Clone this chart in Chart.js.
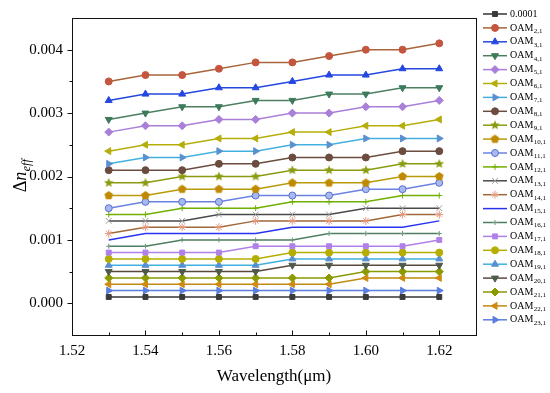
<!DOCTYPE html>
<html><head><meta charset="utf-8">
<script src="https://cdn.jsdelivr.net/npm/chart.js@4.4.1/dist/chart.umd.min.js"></script>
<style>html,body{margin:0;padding:0;background:#fff;}canvas{display:block;}</style>
</head><body>
<canvas id="c" width="550" height="393"></canvas>
<script>
// ---- data ----
const wavelengths = [1.53,1.54,1.55,1.56,1.57,1.58,1.59,1.60,1.61,1.62];
const seriesNames = ['0.0001','OAM2,1','OAM3,1','OAM4,1','OAM5,1','OAM6,1','OAM7,1','OAM8,1','OAM9,1','OAM10,1','OAM11,1','OAM12,1','OAM13,1','OAM14,1','OAM15,1','OAM16,1','OAM17,1','OAM18,1','OAM19,1','OAM20,1','OAM21,1','OAM22,1','OAM23,1'];
const s0001 = [0.0001,0.0001,0.0001,0.0001,0.0001,0.0001,0.0001,0.0001,0.0001,0.0001];
const oam2  = [0.0035,0.0036,0.0036,0.0037,0.0038,0.0038,0.0039,0.0040,0.0040,0.0041];
const oam3  = [0.0032,0.0033,0.0033,0.0034,0.0034,0.0035,0.0036,0.0036,0.0037,0.0037];
const oam4  = [0.0029,0.0030,0.0031,0.0031,0.0032,0.0032,0.0033,0.0033,0.0034,0.0034];
const oam5  = [0.0027,0.0028,0.0028,0.0029,0.0029,0.0030,0.0030,0.0031,0.0031,0.0032];
const oam6  = [0.0024,0.0025,0.0025,0.0026,0.0026,0.0027,0.0027,0.0028,0.0028,0.0029];
const oam7  = [0.0022,0.0023,0.0023,0.0024,0.0024,0.0025,0.0025,0.0026,0.0026,0.0026];
const oam8  = [0.0021,0.0021,0.0021,0.0022,0.0022,0.0023,0.0023,0.0023,0.0024,0.0024];
const oam9  = [0.0019,0.0019,0.0020,0.0020,0.0020,0.0021,0.0021,0.0021,0.0022,0.0022];
const oam10 = [0.0017,0.0017,0.0018,0.0018,0.0018,0.0019,0.0019,0.0019,0.0020,0.0020];
const oam11 = [0.0015,0.0016,0.0016,0.0016,0.0017,0.0017,0.0017,0.0018,0.0018,0.0019];
const oam12 = [0.0014,0.0014,0.0015,0.0015,0.0015,0.0016,0.0016,0.0016,0.0017,0.0017];
const oam13 = [0.0013,0.0013,0.0013,0.0014,0.0014,0.0014,0.0014,0.0015,0.0015,0.0015];
const oam14 = [0.0011,0.0012,0.0012,0.0012,0.0013,0.0013,0.0013,0.0013,0.0014,0.0014];
const oam15 = [0.0010,0.0011,0.0011,0.0011,0.0011,0.0012,0.0012,0.0012,0.0012,0.0013];
const oam16 = [0.0009,0.0009,0.0010,0.0010,0.0010,0.0010,0.0011,0.0011,0.0011,0.0011];
const oam17 = [0.0008,0.0008,0.0008,0.0008,0.0009,0.0009,0.0009,0.0009,0.0009,0.0010];
const oam18 = [0.0007,0.0007,0.0007,0.0007,0.0007,0.0008,0.0008,0.0008,0.0008,0.0008];
const oam19 = [0.0006,0.0006,0.0006,0.0006,0.0006,0.0007,0.0007,0.0007,0.0007,0.0007];
const oam20 = [0.0005,0.0005,0.0005,0.0005,0.0005,0.0006,0.0006,0.0006,0.0006,0.0006];
const oam21 = [0.0004,0.0004,0.0004,0.0004,0.0004,0.0004,0.0004,0.0005,0.0005,0.0005];
const oam22 = [0.0003,0.0003,0.0003,0.0003,0.0003,0.0003,0.0003,0.0004,0.0004,0.0004];
const oam23 = [0.0002,0.0002,0.0002,0.0002,0.0002,0.0002,0.0002,0.0002,0.0002,0.0002];
const seriesValues = [s0001,oam2,oam3,oam4,oam5,oam6,oam7,oam8,oam9,oam10,oam11,oam12,oam13,oam14,oam15,oam16,oam17,oam18,oam19,oam20,oam21,oam22,oam23];

// ---- styles ----
function shapeCanvas(kind, color, r) {
  const s = Math.ceil(r * 2 + 2);
  const c = document.createElement('canvas');
  c.width = s; c.height = s;
  const g = c.getContext('2d');
  g.fillStyle = color;
  g.beginPath();
  const cx = s / 2, cy = s / 2;
  if (kind === 'star') {
    for (let i = 0; i < 10; i++) {
      const a = -Math.PI / 2 + i * Math.PI / 5;
      const rr = i % 2 === 0 ? r : r * 0.45;
      const x = cx + rr * Math.cos(a), y = cy + rr * Math.sin(a);
      i === 0 ? g.moveTo(x, y) : g.lineTo(x, y);
    }
  } else {
    for (let i = 0; i < 5; i++) {
      const a = -Math.PI / 2 + i * 2 * Math.PI / 5;
      const x = cx + r * Math.cos(a), y = cy + r * Math.sin(a);
      i === 0 ? g.moveTo(x, y) : g.lineTo(x, y);
    }
  }
  g.closePath();
  g.fill();
  return c;
}
const styles = [
  {line:'#333333', mark:'#3a3a3a', fill:'#3a3a3a', ps:'rect', rot:0, r:3.5},
  {line:'#a8643a', mark:'#c4553f', fill:'#c4553f', ps:'circle', rot:0, r:3.5},
  {line:'#2447e0', mark:'#2447e0', fill:'#2447e0', ps:'triangle', rot:0, r:4},
  {line:'#4b7f5f', mark:'#3c7a5a', fill:'#3c7a5a', ps:'triangle', rot:180, r:4},
  {line:'#a97fd8', mark:'#a97fd8', fill:'#a97fd8', ps:'rectRot', rot:0, r:4},
  {line:'#b5ae0a', mark:'#b5ae0a', fill:'#b5ae0a', ps:'triangle', rot:-90, r:4},
  {line:'#45b0e0', mark:'#5b90d0', fill:'#5b90d0', ps:'triangle', rot:90, r:4},
  {line:'#6b4c3e', mark:'#6b4c3e', fill:'#6b4c3e', ps:'circle', rot:0, r:3.5},
  {line:'#8a9b10', mark:'#8a9b10', fill:'#8a9b10', ps:shapeCanvas('star','#8a9b10',5), rot:0, r:4},
  {line:'#b89a0a', mark:'#c08a00', fill:'#c08a00', ps:shapeCanvas('pent','#c08a00',4.5), rot:0, r:4},
  {line:'#6a82e0', mark:'#5a70d0', fill:'#a8b8f0', ps:'circle', rot:0, r:3.5},
  {line:'#6fb000', mark:'#6fb000', fill:'#6fb000', ps:'cross', rot:0, r:3},
  {line:'#4a4a4a', mark:'#9a9a9a', fill:'#9a9a9a', ps:'crossRot', rot:0, r:4},
  {line:'#a06838', mark:'#e89a80', fill:'#e89a80', ps:'star', rot:0, r:4},
  {line:'#2633f0', mark:'#2633f0', fill:'#2633f0', ps:'circle', rot:0, r:0},
  {line:'#4e7e60', mark:'#6a9a7a', fill:'#6a9a7a', ps:'cross', rot:0, r:2.5},
  {line:'#b080e8', mark:'#b080e8', fill:'#b080e8', ps:'rect', rot:0, r:3.5},
  {line:'#b5ae00', mark:'#b5ae00', fill:'#b5ae00', ps:'circle', rot:0, r:3.5},
  {line:'#40b0e0', mark:'#5a8fd0', fill:'#5a8fd0', ps:'triangle', rot:0, r:4},
  {line:'#5a4a3e', mark:'#4e5a4a', fill:'#4e5a4a', ps:'triangle', rot:180, r:4},
  {line:'#8a9a00', mark:'#8a9a00', fill:'#8a9a00', ps:'rectRot', rot:0, r:4},
  {line:'#c08a10', mark:'#d08a10', fill:'#d08a10', ps:'triangle', rot:-90, r:4},
  {line:'#5a7ee0', mark:'#5a7ee0', fill:'#5a7ee0', ps:'triangle', rot:90, r:4}
];

const datasets = seriesNames.map((name, i) => ({
  label: name,
  data: wavelengths.map((x, j) => ({x: x, y: seriesValues[i][j]})),
  borderColor: styles[i].line,
  borderWidth: 1.5,
  pointStyle: styles[i].ps,
  pointRotation: styles[i].rot,
  pointRadius: styles[i].r,
  pointBorderColor: styles[i].mark,
  pointBackgroundColor: styles[i].fill,
  pointBorderWidth: 1,
  tension: 0,
  fill: false
}));

const SERIF = "'Liberation Serif','Times New Roman',serif";

const framePlugin = {
  id: 'frame',
  afterDatasetsDraw(chart) {
    const {ctx, chartArea: a, scales} = chart;
    ctx.save();
    ctx.strokeStyle = '#111';
    ctx.lineWidth = 1;
    ctx.strokeRect(Math.round(a.left) + 0.5, Math.round(a.top) + 0.5, Math.round(a.right - a.left), Math.round(a.bottom - a.top));
    // y ticks (outward)
    const ys = scales.y;
    ys.ticks.forEach(t => {
      const v = Math.round(t.value * 10000);
      if (v <= -5 || v >= 45) return;
      const p = Math.round(ys.getPixelForValue(t.value)) + 0.5;
      const len = v % 10 === 0 ? 5 : 3;
      ctx.beginPath();
      ctx.moveTo(Math.round(a.left) + 0.5, p);
      ctx.lineTo(Math.round(a.left) + 0.5 - len, p);
      ctx.stroke();
    });
    // x ticks (inward)
    const xs = scales.x;
    xs.ticks.forEach(t => {
      const v = Math.round(t.value * 100);
      if (v <= 152 || v >= 163) return;
      const p = Math.round(xs.getPixelForValue(t.value)) + 0.5;
      const len = v % 2 === 0 ? 5 : 3;
      ctx.beginPath();
      ctx.moveTo(p, Math.round(a.bottom) + 0.5);
      ctx.lineTo(p, Math.round(a.bottom) + 0.5 - len);
      ctx.stroke();
    });
    ctx.restore();
  }
};

const textPlugin = {
  id: 'texts',
  afterDraw(chart) {
    const ctx = chart.ctx;
    ctx.save();
    // y axis title: Δn_eff
    ctx.translate(20, 176);
    ctx.rotate(-Math.PI / 2);
    ctx.fillStyle = '#000';
    ctx.textBaseline = 'alphabetic';
    ctx.textAlign = 'left';
    const f1 = '18px ' + SERIF, f2 = 'italic 18px ' + SERIF, f3 = 'italic 12px ' + SERIF;
    ctx.font = f1; const w1 = ctx.measureText('Δ').width;
    ctx.font = f2; const w2 = ctx.measureText('n').width;
    ctx.font = f3; const w3 = ctx.measureText('eff').width;
    let x0 = -(w1 + w2 + w3) / 2;
    ctx.font = f1; ctx.fillText('Δ', x0, 6); x0 += w1;
    ctx.font = f2; ctx.fillText('n', x0, 6); x0 += w2;
    ctx.font = f3; ctx.fillText('eff', x0 + 0.5, 10);
    ctx.restore();

    // legend
    ctx.save();
    const lx0 = 483, lx1 = 507, tx = 510, y0 = 14, dy = 13.9;
    chart.data.datasets.forEach((ds, i) => {
      const y = y0 + i * dy;
      const st = styles[i];
      ctx.strokeStyle = st.line;
      ctx.lineWidth = 1.5;
      ctx.beginPath();
      ctx.moveTo(lx0, y); ctx.lineTo(lx1, y);
      ctx.stroke();
      if (st.r > 0) {
        ctx.fillStyle = st.fill;
        ctx.strokeStyle = st.mark;
        ctx.lineWidth = 1;
        Chart.helpers.drawPoint(ctx, {pointStyle: st.ps, rotation: st.rot, radius: st.r, borderWidth: 1}, (lx0 + lx1) / 2, y);
      }
      ctx.fillStyle = '#000';
      ctx.textBaseline = 'middle';
      ctx.textAlign = 'left';
      const name = ds.label;
      if (name.startsWith('OAM')) {
        ctx.font = '10px ' + SERIF;
        ctx.fillText('OAM', tx, y);
        const w = ctx.measureText('OAM').width;
        ctx.font = '7px ' + SERIF;
        ctx.fillText(name.slice(3), tx + w + 0.3, y + 3);
      } else {
        ctx.font = '10px ' + SERIF;
        ctx.fillText(name, tx, y);
      }
    });
    ctx.restore();
  }
};

new Chart(document.getElementById('c'), {
  type: 'line',
  data: {datasets},
  options: {
    responsive: false,
    animation: false,
    devicePixelRatio: 1,
    layout: {padding: {left: 0, right: 74, top: 8, bottom: 0}},
    plugins: {legend: {display: false}, tooltip: {enabled: false}},
    scales: {
      x: {
        type: 'linear', min: 1.52, max: 1.63,
        afterFit: s => { s.height = 58; },
        grid: {display: false, drawTicks: false},
        border: {display: false},
        ticks: {
          stepSize: 0.01, padding: 7, color: '#000', maxRotation: 0, autoSkip: false,
          font: {family: SERIF, size: 15},
          callback: v => { const k = Math.round(v * 100); return (k % 2 === 0 && k < 163) ? (k / 100).toFixed(2) : ''; }
        },
        title: {display: true, text: 'Wavelength(μm)', color: '#000', font: {family: SERIF, size: 17}, padding: {top: 0, bottom: 6}}
      },
      y: {
        type: 'linear', min: -0.0005, max: 0.0045,
        afterFit: s => { s.width = 72; },
        grid: {display: false, drawTicks: false},
        border: {display: false},
        ticks: {
          stepSize: 0.0005, padding: 9, color: '#000', autoSkip: false,
          font: {family: SERIF, size: 15},
          callback: v => { const k = Math.round(v * 10000); return (k % 10 === 0 && k >= 0 && k < 45) ? (k / 10000).toFixed(3) : ''; }
        }
      }
    }
  },
  plugins: [framePlugin, textPlugin]
});
</script>
</body></html>
